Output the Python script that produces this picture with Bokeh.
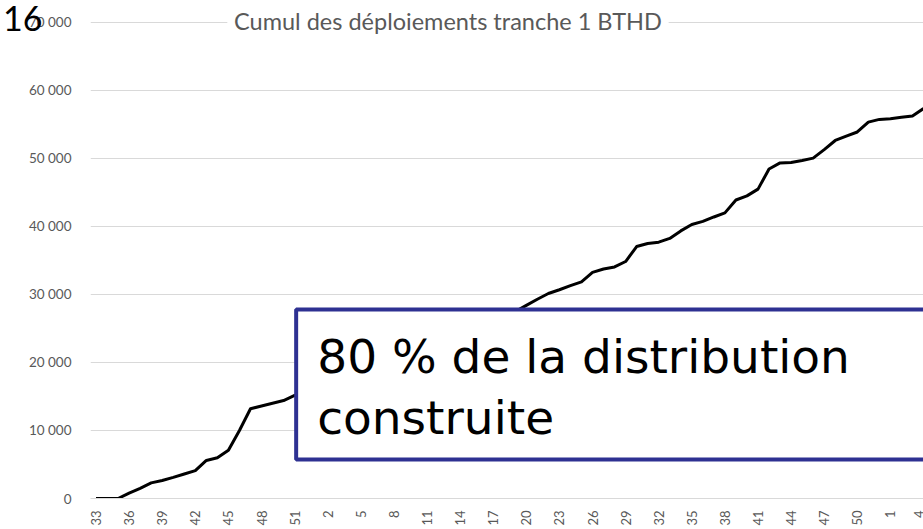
import math
from bokeh.plotting import figure
from bokeh.models import Range1d, FixedTicker, BoxAnnotation, Label, ColumnDataSource, LinearAxis
from bokeh.embed import file_html
from bokeh.resources import INLINE

# Week numbers (category labels along the x axis)
weeks = [33, 34, 35, 36, 37, 38, 39, 40, 41, 42, 43, 44, 45, 46, 47, 48, 49, 50, 51, 52,
         1, 2, 3, 4, 5, 6, 7, 8, 9, 10, 11, 12, 13, 14, 15, 16, 17, 18, 19, 20,
         21, 22, 23, 24, 25, 26, 27, 28, 29, 30, 31, 32, 33, 34, 35, 36, 37, 38, 39, 40,
         41, 42, 43, 44, 45, 46, 47, 48, 49, 50, 51, 52,
         1, 2, 3, 4]

# Cumulative deployments
cumul = [0, 0, 0, 800, 1500, 2300, 2650, 3100, 3600, 4100,
         5600, 6000, 7100, 10000, 13200, 13600, 14000, 14400, 15150, 15600,
         15800, 16200, 16900, 17600, 18300, 18800, 19500, 20300, 20900, 21500,
         22200, 22800, 23300, 24000, 24700, 25300, 25900, 26700, 27500, 28400,
         29300, 30150, 30700, 31300, 31850, 33250, 33750, 34050, 34850, 37050,
         37500, 37700, 38250, 39350, 40300, 40750, 41400, 42000, 43900, 44500,
         45500, 48450, 49350, 49400, 49700, 50050, 51300, 52650, 53300, 53900,
         55350, 55750, 55850, 56050, 56250, 57350]

y_ticks = [0, 10000, 20000, 30000, 40000, 50000, 60000, 70000]
y_tick_labels = ["0", "10 000", "20 000", "30 000", "40 000", "50 000", "60 000", "70 000"]

title_text = "Cumul des déploiements tranche 1 BTHD"
box_line1 = "80 % de la distribution"
box_line2 = "construite"
slide_no = "16"

idx = list(range(len(weeks)))
src = ColumnDataSource(dict(idx=idx, val=cumul))

p = figure(width=923, height=529, output_backend="svg", toolbar_location=None,
           x_range=Range1d(-0.5, 75.0), y_range=Range1d(0, 73235),
           min_border_left=89, min_border_right=0, min_border_top=0, min_border_bottom=31)
p.outline_line_color = None
p.background_fill_color = "white"
p.border_fill_color = "white"

p.line(x="idx", y="val", source=src, line_color="black", line_width=3, line_join="round")

x_tick_idx = idx[::3]
p.xaxis.ticker = FixedTicker(ticks=x_tick_idx)
p.xaxis.major_label_overrides = {i: str(weeks[i]) for i in x_tick_idx}
p.xaxis.major_label_orientation = math.pi / 2
p.xaxis.major_tick_line_color = None
p.xaxis.major_tick_out = 0
p.xaxis.major_tick_in = 0
p.xaxis.minor_tick_line_color = None
p.xaxis.minor_tick_out = 0
p.xaxis.axis_line_color = "#d9d9d9"
p.xaxis.major_label_standoff = 12
p.xaxis.major_label_text_font = "Lato"
p.xaxis.major_label_text_font_size = "13px"
p.xaxis.major_label_text_color = "#595959"

p.yaxis.ticker = FixedTicker(ticks=y_ticks)
p.yaxis.major_label_overrides = {t: l for t, l in zip(y_ticks, y_tick_labels)}
p.yaxis.axis_line_color = None
p.yaxis.major_tick_line_color = None
p.yaxis.major_tick_out = 0
p.yaxis.major_tick_in = 0
p.yaxis.minor_tick_line_color = None
p.yaxis.minor_tick_out = 0
p.yaxis.major_label_standoff = 19
p.yaxis.major_label_text_font = "Lato"
p.yaxis.major_label_text_font_size = "13.5px"
p.yaxis.major_label_text_color = "#595959"

# slide number, carried by an extra label-only axis at the far left
slide_axis = LinearAxis(ticker=FixedTicker(ticks=[70588]),
                        major_label_overrides={70588: slide_no},
                        axis_line_color=None, major_tick_line_color=None,
                        minor_tick_line_color=None, major_tick_out=0, major_tick_in=0,
                        minor_tick_out=0, major_label_standoff=-17,
                        major_label_text_font="Lato", major_label_text_font_size="34px",
                        major_label_text_baseline="alphabetic",
                        major_label_text_color="black")
p.add_layout(slide_axis, "left")

p.xgrid.grid_line_color = None
p.ygrid.ticker = FixedTicker(ticks=y_ticks)
p.ygrid.grid_line_color = "#d9d9d9"
p.ygrid.grid_line_width = 1

# white patch behind the title
p.add_layout(BoxAnnotation(left=11.9, right=51.9, bottom=68200, top=72500,
                           fill_color="white", fill_alpha=1, line_color=None))
p.add_layout(Label(x=31.9, y=70150, text=title_text, text_align="center",
                   text_baseline="middle", text_font="Lato", text_font_size="23.5px",
                   text_color="#595959"))

# annotation box
p.add_layout(BoxAnnotation(left=18.14, right=80, bottom=5735, top=27794,
                           fill_color="white", fill_alpha=1,
                           line_color="#2E3192", line_alpha=1, line_width=4))
p.add_layout(Label(x=20.05, y=20850, text=box_line1, text_font="DejaVu Sans",
                   text_font_size="47px", text_color="black", text_baseline="alphabetic"))
p.add_layout(Label(x=20.05, y=11950, text=box_line2, text_font="DejaVu Sans",
                   text_font_size="47px", text_color="black", text_baseline="alphabetic"))

open("out.html", "w").write(file_html(p, INLINE))
